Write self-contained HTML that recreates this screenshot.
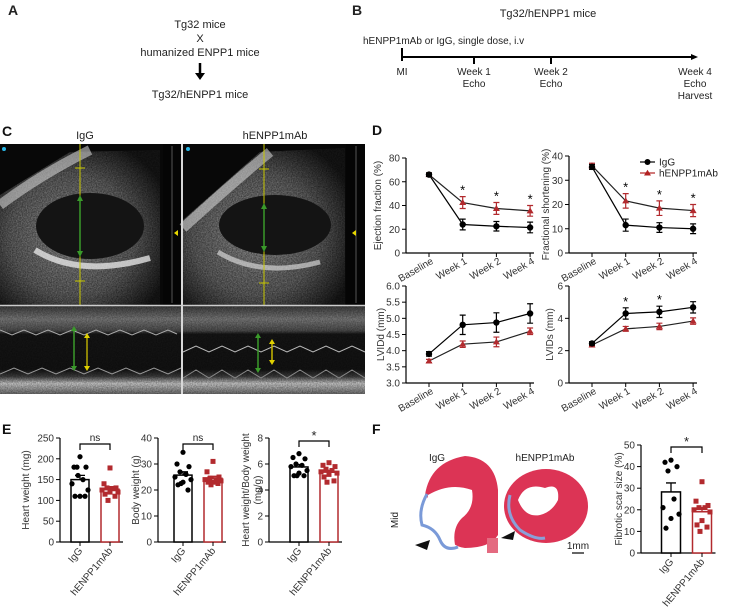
<!DOCTYPE html>
<html><head><meta charset="utf-8"><style>
html,body{margin:0;padding:0;background:#fff;}
svg{display:block;font-family:"Liberation Sans",Arial,sans-serif;}
</style></head><body>
<svg id="fig" width="729" height="608" viewBox="0 0 729 608" xmlns="http://www.w3.org/2000/svg">
<defs>
<radialGradient id="tis" cx="45%" cy="55%" r="65%"><stop offset="0" stop-color="#a8a8a8"/><stop offset="0.6" stop-color="#707070"/><stop offset="1" stop-color="#1a1a1a"/></radialGradient>
<linearGradient id="mm" x1="0" y1="0" x2="0" y2="1"><stop offset="0" stop-color="#444"/><stop offset="0.15" stop-color="#888"/><stop offset="0.28" stop-color="#555"/><stop offset="0.32" stop-color="#181818"/><stop offset="0.72" stop-color="#151515"/><stop offset="0.8" stop-color="#444"/><stop offset="0.88" stop-color="#e0e0e0"/><stop offset="1" stop-color="#777"/></linearGradient>
<filter id="noise"><feTurbulence type="fractalNoise" baseFrequency="0.8" numOctaves="2" result="n"/><feColorMatrix in="n" type="matrix" values="0 0 0 0 1  0 0 0 0 1  0 0 0 0 1  0 0 0 -1.4 1.3" result="m"/><feComposite in="SourceGraphic" in2="m" operator="in"/></filter>
</defs>

<!-- Panel A -->
<g font-size="11" fill="#222">
<text x="8" y="15" font-weight="bold" font-size="14">A</text>
<text x="200" y="28" text-anchor="middle">Tg32 mice</text>
<text x="200" y="42" text-anchor="middle">X</text>
<text x="200" y="56" text-anchor="middle">humanized ENPP1 mice</text>
<line x1="200" y1="63" x2="200" y2="74" stroke="#000" stroke-width="2.5"/>
<polygon points="195,73 205,73 200,80" fill="#000"/>
<text x="200" y="98" text-anchor="middle">Tg32/hENPP1 mice</text>
</g>

<!-- Panel B -->
<g font-size="10" fill="#222">
<text x="352" y="15" font-weight="bold" font-size="14">B</text>
<text x="548" y="17" text-anchor="middle" font-size="11">Tg32/hENPP1 mice</text>
<text x="363" y="44">hENPP1mAb or IgG, single dose, i.v</text>
<line x1="402" y1="57" x2="692" y2="57" stroke="#000" stroke-width="2"/>
<polygon points="691,54 698,57 691,60" fill="#000"/>
<line x1="402" y1="48" x2="402" y2="61" stroke="#000" stroke-width="2"/>
<line x1="474" y1="57" x2="474" y2="64" stroke="#000" stroke-width="2"/>
<line x1="551" y1="57" x2="551" y2="64" stroke="#000" stroke-width="2"/>
<text x="402" y="75" text-anchor="middle">MI</text>
<text x="474" y="75" text-anchor="middle">Week 1</text>
<text x="474" y="87" text-anchor="middle">Echo</text>
<text x="551" y="75" text-anchor="middle">Week 2</text>
<text x="551" y="87" text-anchor="middle">Echo</text>
<text x="695" y="75" text-anchor="middle">Week 4</text>
<text x="695" y="87" text-anchor="middle">Echo</text>
<text x="695" y="99" text-anchor="middle">Harvest</text>
</g>

<!-- Panel C -->
<g>
<text x="2" y="136" font-weight="bold" font-size="14" fill="#111">C</text>
<text x="85" y="139" font-size="11" text-anchor="middle" fill="#222">IgG</text>
<text x="275" y="139" font-size="11" text-anchor="middle" fill="#222">hENPP1mAb</text>
<g>
<rect x="0" y="144" width="181" height="161" fill="#080808"/>
<path d="M0,195 L70,152 L160,150 L160,305 L0,305 Z" fill="url(#tis)"/>
<path d="M0,195 L70,152 L160,150 L160,305 L0,305 Z" fill="#000" filter="url(#noise)" opacity="0.55"/>
<path d="M0,205 Q40,175 90,150" stroke="#ddd" stroke-width="10" fill="none" opacity="0.55"/>
<ellipse cx="90" cy="226" rx="54" ry="33" fill="#141414"/>
<path d="M35,250 Q80,278 150,258" stroke="#eee" stroke-width="6" fill="none" opacity="0.75"/>
<rect x="163" y="144" width="18" height="161" fill="#050505"/>
<line x1="172" y1="146" x2="172" y2="303" stroke="#555" stroke-width="1"/>
<circle cx="4" cy="149" r="2" fill="#2ab8e8"/>
<polygon points="174,233 178,230 178,236" fill="#e8d800"/>
<line x1="80" y1="144" x2="80" y2="305" stroke="#c8c800" stroke-width="1"/>
<line x1="75" y1="168" x2="85" y2="168" stroke="#c8c800"/><line x1="75" y1="281" x2="85" y2="281" stroke="#c8c800"/>
<line x1="80" y1="197" x2="80" y2="255" stroke="#3a9a2a" stroke-width="1.5"/>
<polygon points="77,201 83,201 80,195" fill="#3a9a2a"/><polygon points="77,251 83,251 80,257" fill="#3a9a2a"/>
</g>
<g>
<rect x="183" y="144" width="182" height="161" fill="#080808"/>
<path d="M183,220 L260,152 L345,148 L345,305 L183,305 Z" fill="url(#tis)"/>
<path d="M183,220 L260,152 L345,148 L345,305 L183,305 Z" fill="#000" filter="url(#noise)" opacity="0.55"/>
<path d="M183,228 Q230,185 270,152" stroke="#ddd" stroke-width="10" fill="none" opacity="0.55"/>
<ellipse cx="275" cy="225" rx="56" ry="30" fill="#141414"/>
<path d="M218,252 Q260,278 320,262" stroke="#ddd" stroke-width="5" fill="none" opacity="0.65"/>
<rect x="346" y="144" width="19" height="161" fill="#050505"/>
<line x1="356" y1="146" x2="356" y2="303" stroke="#555" stroke-width="1"/>
<circle cx="188" cy="149" r="2" fill="#2ab8e8"/>
<polygon points="352,233 356,230 356,236" fill="#e8d800"/>
<line x1="264" y1="144" x2="264" y2="305" stroke="#c8c800" stroke-width="1"/>
<line x1="259" y1="169" x2="269" y2="169" stroke="#c8c800"/><line x1="259" y1="283" x2="269" y2="283" stroke="#c8c800"/>
<line x1="264" y1="205" x2="264" y2="250" stroke="#3a9a2a" stroke-width="1.5"/>
<polygon points="261,209 267,209 264,203" fill="#3a9a2a"/><polygon points="261,246 267,246 264,252" fill="#3a9a2a"/>
</g>
<g>
<rect x="0" y="306" width="181" height="88" fill="url(#mm)"/>
<rect x="0" y="306" width="181" height="88" fill="#000" filter="url(#noise)" opacity="0.4"/>
<path d="M0,330 l12,5 l12,-5 l12,5 l12,-5 l12,5 l12,-5 l12,5 l12,-5 l12,5 l12,-5 l12,5 l12,-5 l12,5 l12,-5 l9,4" stroke="#aaa" fill="none"/>
<path d="M0,374 l14,-6 l14,6 l14,-6 l14,6 l14,-6 l14,6 l14,-6 l14,6 l14,-6 l14,6 l14,-6 l14,6 l13,-6" stroke="#999" fill="none"/>
<line x1="74" y1="328" x2="74" y2="369" stroke="#3a9a2a" stroke-width="1.5"/>
<polygon points="71,331 77,331 74,326" fill="#3a9a2a"/><polygon points="71,366 77,366 74,371" fill="#3a9a2a"/>
<line x1="87" y1="335" x2="87" y2="369" stroke="#e0d000" stroke-width="1.2"/>
<polygon points="84,338 90,338 87,333" fill="#e0d000"/><polygon points="84,366 90,366 87,371" fill="#e0d000"/>
</g>
<g>
<rect x="183" y="306" width="182" height="88" fill="url(#mm)"/>
<rect x="183" y="306" width="182" height="88" fill="#000" filter="url(#noise)" opacity="0.4"/>
<path d="M183,352 l13,-6 l13,6 l13,-6 l13,6 l13,-6 l13,6 l13,-6 l13,6 l13,-6 l13,6 l13,-6 l13,6 l13,-6 l13,6" stroke="#bbb" fill="none"/>
<path d="M183,378 l13,-8 l13,8 l13,-8 l13,8 l13,-8 l13,8 l13,-8 l13,8 l13,-8 l13,8 l13,-8 l13,8 l13,-8 l13,8" stroke="#888" fill="none"/>
<line x1="258" y1="335" x2="258" y2="371" stroke="#3a9a2a" stroke-width="1.5"/>
<polygon points="255,338 261,338 258,333" fill="#3a9a2a"/><polygon points="255,368 261,368 258,373" fill="#3a9a2a"/>
<line x1="272" y1="341" x2="272" y2="363" stroke="#c8b800" stroke-width="1.5"/>
<polygon points="269,344 275,344 272,339" fill="#e0d000"/><polygon points="269,360 275,360 272,365" fill="#e0d000"/>
</g>
<line x1="0" y1="305.5" x2="365" y2="305.5" stroke="#ccc" stroke-width="1.5"/>
<line x1="182" y1="144" x2="182" y2="394" stroke="#ccc" stroke-width="1.5"/>
</g>

<text x="372" y="135" font-weight="bold" font-size="14" fill="#111">D</text>
<g id="dcharts"></g>

<g font-size="10" fill="#222">
<line x1="640" y1="162" x2="655" y2="162" stroke="#000" stroke-width="1.2"/>
<circle cx="647.5" cy="162" r="3" fill="#000"/>
<text x="659" y="165.5">IgG</text>
<line x1="640" y1="173" x2="655" y2="173" stroke="#b22222" stroke-width="1.2"/>
<polygon points="647.5,169.8 651,175.5 644,175.5" fill="#b22222"/>
<text x="659" y="176.5">hENPP1mAb</text>
</g>

<text x="2" y="434" font-weight="bold" font-size="14" fill="#111">E</text>
<g id="echarts"></g>

<!-- Panel F -->
<text x="372" y="434" font-weight="bold" font-size="14" fill="#111">F</text>
<g>
<text x="437" y="461" font-size="10" text-anchor="middle" fill="#222">IgG</text>
<text x="545" y="461" font-size="10" text-anchor="middle" fill="#222">hENPP1mAb</text>
<text x="0" y="0" font-size="10" fill="#222" transform="translate(398,520) rotate(-90)" text-anchor="middle">Mid</text>
<g>
<path d="M425,495 Q430,462 465,456 Q495,458 498,490 L498,535 Q490,548 465,548 Q450,546 450,535 Q440,510 425,495 Z" fill="#dc3455"/>
<path d="M428,495 Q450,482 472,490 Q475,508 462,518 Q452,528 455,545 Q442,548 440,532 Q425,520 428,495 Z" fill="#fff"/>
<path d="M427,494 Q418,510 422,525 Q435,528 440,540 Q445,552 458,547" stroke="#7a9ad8" stroke-width="3" fill="none"/>
<rect x="487" y="538" width="11" height="15" fill="#e46a80"/>
<polygon points="415,545 430,540 427,550" fill="#111"/>
</g>
<g>
<ellipse cx="546" cy="506" rx="42" ry="37" fill="#dc3455"/>
<path d="M518,500 Q525,482 545,488 Q560,482 558,500 Q552,512 540,515 Q525,518 518,500 Z" fill="#fff"/>
<path d="M510,495 Q505,515 520,530 Q535,540 545,538" stroke="#8aa0d8" stroke-width="3" fill="none"/>
<polygon points="501,538 515,531 513,540" fill="#111"/>
</g>
<line x1="572" y1="553" x2="584" y2="553" stroke="#000" stroke-width="1.2"/>
<text x="578" y="549" font-size="10" text-anchor="middle" fill="#222">1mm</text>
</g>
<g id="fchart"></g>
</svg>
<script>
const NS='http://www.w3.org/2000/svg';
const dCategories=['Baseline','Week 1','Week 2','Week 4'];
const efIgG=[66,24,22.5,21.5];
const efIgGErr=[1.5,4.5,4,4.5];
const efMab=[66,42.5,37.5,35.5];
const efMabErr=[1.5,5,5,4.5];
const efStars=[1,2,3];
const fsIgG=[35.5,11.5,10.5,10];
const fsIgGErr=[1,2.5,2,2];
const fsMab=[36,21.5,18.5,17.5];
const fsMabErr=[1,3,3,2.5];
const fsStars=[1,2,3];
const lviddIgG=[3.9,4.8,4.87,5.15];
const lviddIgGErr=[0.07,0.3,0.3,0.3];
const lviddMab=[3.68,4.2,4.27,4.6];
const lviddMabErr=[0.05,0.1,0.15,0.1];
const lviddStars=[];
const lvidsIgG=[2.45,4.3,4.4,4.68];
const lvidsIgGErr=[0.1,0.35,0.35,0.35];
const lvidsMab=[2.35,3.35,3.5,3.83];
const lvidsMabErr=[0.05,0.15,0.2,0.2];
const lvidsStars=[1,2];
const efTicks=[0,20,40,60,80];
const fsTicks=[0,10,20,30,40];
const lviddTicks=['3.0','3.5','4.0','4.5','5.0','5.5','6.0'];
const lvidsTicks=[0,2,4,6];

const groupLabels=['IgG','hENPP1mAb'];
const hwIgG=[205,180,180,180,150,140,125,110,110,110,160];
const hwMab=[178,140,130,130,128,125,120,120,115,110,100];
const bwIgG=[34.5,30,29,27,26,25,24,23,22,20,22.5];
const bwMab=[31,27,25,24.5,24,24,23.5,23,23,22.5,22];
const ratioIgG=[6.8,6.5,6.4,6.0,5.9,5.8,5.5,5.3,5.1,5.1,5.1];
const ratioMab=[6.1,5.9,5.8,5.6,5.5,5.4,5.3,5.2,5.0,4.7,4.6];
const scarIgG=[43,42,40,38,25,21,18,16,11.5];
const scarMab=[33,24,22,21,21,20,19,15,13,12,10];
const hwTicks=[0,50,100,150,200,250];
const bwTicks=[0,10,20,30,40];
const ratioTicks=[0,2,4,6,8];
const scarTicks=[0,10,20,30,40,50];

const RED='#b22a2e';
function mk(parent,tag,attrs,text){const e=document.createElementNS(NS,tag);for(const k in attrs)e.setAttribute(k,attrs[k]);if(text!==undefined)e.textContent=text;parent.appendChild(e);return e;}

function lineChart(cfg){
  const g=mk(document.getElementById('dcharts'),'g',{});
  
  
  const min=cfg.min,max=cfg.max;
  const y=v=>cfg.yBot-(v-min)/(max-min)*(cfg.yBot-cfg.yTop);
  const x=i=>cfg.ax+23+i*33.7;
  const ya=mk(g,'line',{x1:cfg.ax,y1:cfg.yTop,x2:cfg.ax,y2:cfg.yBot,stroke:'#000','stroke-width':1.2});
  
  
  const xa=mk(g,'line',{x1:cfg.ax,y1:cfg.yBot,x2:cfg.ax+128,y2:cfg.yBot,stroke:'#000','stroke-width':1.2});
  
  
  cfg.ticks.forEach(t=>{
    const v=parseFloat(t);
    mk(g,'line',{x1:cfg.ax-4,y1:y(v),x2:cfg.ax,y2:y(v),stroke:'#000'});
    const tl=mk(g,'text',{x:cfg.ax-6,y:y(v)+3.5,'font-size':10,'text-anchor':'end',fill:'#333'},String(t));
    
    
  });
  dCategories.forEach((c,i)=>{
    mk(g,'line',{x1:x(i),y1:cfg.yBot,x2:x(i),y2:cfg.yBot+4,stroke:'#000'});
    const tl=mk(g,'text',{x:0,y:0,'font-size':10,'text-anchor':'end',fill:'#333',transform:`translate(${x(i)+5},${cfg.yBot+10}) rotate(-30)`},c);
    
    
  });
  const yl=mk(g,'text',{x:0,y:0,'font-size':10,'text-anchor':'middle',fill:'#333',transform:`translate(${cfg.lx},${(cfg.yTop+cfg.yBot)/2}) rotate(-90)`},cfg.label);
  
  
  function series(vals,errs,color,tri,nm){
    const pts=vals.map((v,i)=>x(i)+','+y(v)).join(' ');
    const pl=mk(g,'polyline',{points:pts,fill:'none',stroke:color==='#000'?'#000':'#222','stroke-width':1.2});
    
    
    vals.forEach((v,i)=>{
      const eb=mk(g,'path',{d:`M${x(i)},${y(v-errs[i])}V${y(v+errs[i])}M${x(i)-3},${y(v-errs[i])}h6M${x(i)-3},${y(v+errs[i])}h6`,stroke:color,'stroke-width':1.2,fill:'none'});
      
      
      let m;
      if(tri){m=mk(g,'polygon',{points:`${x(i)},${y(v)-3.5} ${x(i)+3.5},${y(v)+2.5} ${x(i)-3.5},${y(v)+2.5}`,fill:color});}
      else{m=mk(g,'circle',{cx:x(i),cy:y(v),r:3.2,fill:color});}
      
      
    });
  }
  series(cfg.mab,cfg.mabE,RED,true,'henpp1mab');
  series(cfg.igg,cfg.iggE,'#000',false,'igg');
  cfg.stars.forEach(i=>{
    const top=Math.max(cfg.igg[i]+cfg.iggE[i],cfg.mab[i]+cfg.mabE[i]);
    const s=mk(g,'text',{x:x(i),y:y(top)-2,'font-size':13,'text-anchor':'middle',fill:'#000'},'*');
    
    
  });
}
lineChart({name:'ejection-fraction-chart',ax:406,yTop:158,yBot:253,min:0,max:80,ticks:efTicks,label:'Ejection fraction (%)',lx:381,igg:efIgG,iggE:efIgGErr,mab:efMab,mabE:efMabErr,stars:efStars});
lineChart({name:'fractional-shortening-chart',ax:569,yTop:156,yBot:253,min:0,max:40,ticks:fsTicks,label:'Fractional shortening (%)',lx:549,igg:fsIgG,iggE:fsIgGErr,mab:fsMab,mabE:fsMabErr,stars:fsStars});
lineChart({name:'lvidd-chart',ax:406,yTop:286,yBot:383,min:3,max:6,ticks:lviddTicks,label:'LVIDd (mm)',lx:384,igg:lviddIgG,iggE:lviddIgGErr,mab:lviddMab,mabE:lviddMabErr,stars:lviddStars});
lineChart({name:'lvids-chart',ax:569,yTop:286,yBot:383,min:0,max:6,ticks:lvidsTicks,label:'LVIDs (mm)',lx:553,igg:lvidsIgG,iggE:lvidsIgGErr,mab:lvidsMab,mabE:lvidsMabErr,stars:lvidsStars});

function barChart(cfg){
  const g=mk(document.getElementById(cfg.parent),'g',{});
  
  
  const max=cfg.ticks[cfg.ticks.length-1];
  const y=v=>cfg.yBot-v/max*(cfg.yBot-cfg.yTop);
  const cx=[cfg.ax+cfg.off,cfg.ax+cfg.off+cfg.gap];
  const bw=cfg.bw;
  const ya=mk(g,'line',{x1:cfg.ax,y1:cfg.yTop,x2:cfg.ax,y2:cfg.yBot,stroke:'#000','stroke-width':1.2});
  
  
  const xa=mk(g,'line',{x1:cfg.ax,y1:cfg.yBot,x2:cx[1]+bw/2+4,y2:cfg.yBot,stroke:'#000','stroke-width':1.2});
  
  
  cfg.ticks.forEach(t=>{
    mk(g,'line',{x1:cfg.ax-4,y1:y(t),x2:cfg.ax,y2:y(t),stroke:'#000'});
    const tl=mk(g,'text',{x:cfg.ax-6,y:y(t)+3.5,'font-size':10,'text-anchor':'end',fill:'#333'},String(t));
    
    
  });
  cfg.labels.forEach((l,i)=>{
    const yl=mk(g,'text',{x:0,y:0,'font-size':10,'text-anchor':'middle',fill:'#333',transform:`translate(${cfg.lx[i]},${(cfg.yTop+cfg.yBot)/2}) rotate(-90)`},l);
    
    
  });
  [cfg.igg,cfg.mab].forEach((vals,k)=>{
    const color=k?RED:'#000';
    const nm=k?'henpp1mab':'igg';
    const mean=vals.reduce((a,b)=>a+b,0)/vals.length;
    const sd=Math.sqrt(vals.reduce((a,b)=>a+(b-mean)*(b-mean),0)/(vals.length-1));
    const sem=sd/Math.sqrt(vals.length);
    const b=mk(g,'rect',{x:cx[k]-bw/2,y:y(mean),width:bw,height:cfg.yBot-y(mean),fill:'#fff',stroke:color,'stroke-width':1.5});
    
    
    const eb=mk(g,'path',{d:`M${cx[k]},${y(mean)}V${y(mean+sem)}M${cx[k]-5},${y(mean+sem)}h10`,stroke:color,'stroke-width':1.3,fill:'none'});
    
    
    const offs=[0,-6,6,-3,3,-8,8,0,-5,5,-2,2];
    vals.forEach((v,i)=>{
      const px=cx[k]+offs[i%offs.length];
      let m;
      if(k){m=mk(g,'rect',{x:px-2.5,y:y(v)-2.5,width:5,height:5,fill:color});}
      else{m=mk(g,'circle',{cx:px,cy:y(v),r:2.6,fill:color});}
      
      
    });
    mk(g,'line',{x1:cx[k],y1:cfg.yBot,x2:cx[k],y2:cfg.yBot+4,stroke:'#000'});
    const xl=mk(g,'text',{x:0,y:0,'font-size':10,'text-anchor':'end',fill:'#333',transform:`translate(${cx[k]+3},${cfg.yBot+9}) rotate(-50)`},groupLabels[k]);
    
    
  });
  const by=cfg.bracketY;
  const br=mk(g,'path',{d:`M${cx[0]},${by+6}V${by}H${cx[1]}V${by+6}`,stroke:'#000','stroke-width':1.2,fill:'none'});
  
  
  const st=mk(g,'text',{x:(cx[0]+cx[1])/2,y:cfg.sig==='*'?by-1:by-3,'font-size':cfg.sig==='*'?13:10,'text-anchor':'middle',fill:'#222'},cfg.sig);
  
  
}
barChart({parent:'echarts',name:'heart-weight-chart',ax:60,yTop:438,yBot:542,off:20,gap:30,bw:18,ticks:hwTicks,labels:['Heart weight (mg)'],lx:[29],igg:hwIgG,mab:hwMab,bracketY:444,sig:'ns'});
barChart({parent:'echarts',name:'body-weight-chart',ax:158,yTop:438,yBot:542,off:25,gap:30,bw:18,ticks:bwTicks,labels:['Body weight (g)'],lx:[139],igg:bwIgG,mab:bwMab,bracketY:444,sig:'ns'});
barChart({parent:'echarts',name:'heart-body-weight-ratio-chart',ax:269,yTop:438,yBot:542,off:30,gap:30,bw:18,ticks:ratioTicks,labels:['Heart weight/Body weight','(mg/g)'],lx:[249,261],igg:ratioIgG,mab:ratioMab,bracketY:441,sig:'*'});
barChart({parent:'fchart',name:'fibrotic-scar-size-chart',ax:641,yTop:445,yBot:553,off:30,gap:31,bw:19,ticks:scarTicks,labels:['Fibrotic scar size (%)'],lx:[622],igg:scarIgG,mab:scarMab,bracketY:447,sig:'*'});
</script>
</body></html>
